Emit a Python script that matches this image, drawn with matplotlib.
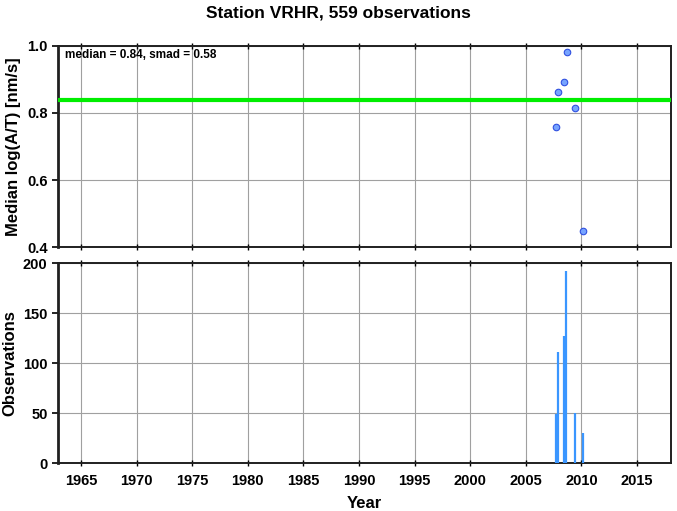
import matplotlib
matplotlib.use("Agg")
import matplotlib.pyplot as plt

plt.rcParams['font.family'] = ['Liberation Sans', 'DejaVu Sans']
plt.rcParams['font.weight'] = 'bold'

# Data
point_years = [2007.72, 2007.9, 2008.41, 2008.68, 2009.42, 2010.14]
point_vals = [0.757, 0.862, 0.892, 0.982, 0.816, 0.449]
median_val = 0.84
smad_val = 0.58
bar_years = [2007.7, 2007.9, 2008.4, 2008.65, 2009.42, 2010.15]
bar_counts = [49, 111, 127, 192, 50, 30]
year_ticks = [1965, 1970, 1975, 1980, 1985, 1990, 1995, 2000, 2005, 2010, 2015]
top_yticks = [0.4, 0.6, 0.8, 1.0]
bot_yticks = [0, 50, 100, 150, 200]

fig = plt.figure(figsize=(6.77, 5.11), dpi=100)
ax1 = fig.add_axes([0.0857, 0.5166, 0.9054, 0.3934])
ax2 = fig.add_axes([0.0857, 0.0939, 0.9054, 0.3914])

xlim = (1962.93, 2018.06)
for ax in (ax1, ax2):
    ax.set_xlim(*xlim)
    ax.set_xticks(year_ticks)
    ax.grid(True, color='#a0a0a0', linewidth=0.8)
    ax.set_axisbelow(True)
    for s in ax.spines.values():
        s.set_linewidth(1.4)
        s.set_color('#202020')
    ax.spines['left'].set_linewidth(2.0)
    ax.tick_params(axis='y', direction='out', length=4, width=1.2, labelsize=10.5)
    ax.tick_params(axis='x', direction='inout', length=4, width=1.0, labelsize=10.5,
                   top=True, pad=6)

# Top panel
ax1.set_ylim(0.4, 1.0)
ax1.set_yticks(top_yticks)
ax1.set_yticklabels(['%.1f' % v for v in top_yticks], fontweight='bold')
ax1.tick_params(labelbottom=False)
ax1.axhline(median_val, color='#00ee00', linewidth=3, zorder=3)
ax1.scatter(point_years, point_vals, s=22, facecolor='#77a4ff', edgecolor='#3050e0',
            linewidth=0.8, zorder=4)
ax1.text(0.012, 0.985, 'median = %.2f, smad = %.2f' % (median_val, smad_val),
         transform=ax1.transAxes, ha='left', va='top', fontsize=8.5, fontweight='bold')
ax1.set_ylabel('Median log(A/T) [nm/s]', fontsize=12, fontweight='bold')

# Bottom panel
ax2.set_ylim(0, 200)
ax2.set_yticks(bot_yticks)
ax2.set_yticklabels([str(v) for v in bot_yticks], fontweight='bold')
ax2.set_xticklabels([str(v) for v in year_ticks], fontweight='bold')
ax2.vlines(bar_years, 0, bar_counts, color='#3a96ff', linewidth=1.6, zorder=3)
ax2.set_ylabel('Observations', fontsize=12, fontweight='bold')

fig.text(0.5386, 1 - 504 / 511, 'Year', ha='center', va='center',
         fontsize=12, fontweight='bold')

fig.suptitle('Station VRHR, 559 observations', fontsize=12.5, fontweight='bold', y=0.99)

fig.savefig('out.png', dpi=100)
